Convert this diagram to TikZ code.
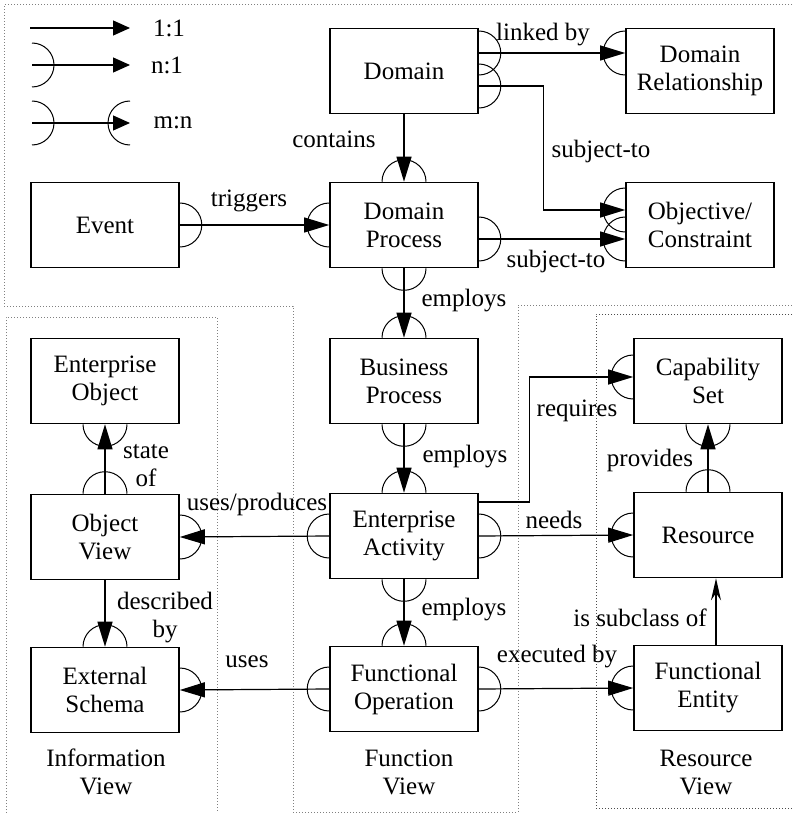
\documentclass[tikz,border=0pt]{standalone}
\usepackage{fontspec}
\setmainfont{Liberation Serif}
\usetikzlibrary{arrows.meta}

% half circle on a box side, #2 = direction pointing away from the box
\newcommand{\cardarc}[2]{\draw[line width=0.5pt] (#1) ++(#2+90:11pt) arc[start angle=#2+90,end angle=#2-90,radius=11pt];}

\begin{document}
\begin{tikzpicture}[x=0.5pt,y=-0.5pt,>={Triangle[length=12.5pt,width=7.5pt]},
	box/.style={draw,line width=0.8pt,minimum width=74pt,minimum height=42.5pt,inner sep=0pt,align=center},
	lbl/.style={inner sep=0pt,align=center},
	conn/.style={line width=0.6pt},
	view/.style={densely dotted,gray,line width=0.5pt},
	font=\fontsize{12.5}{14}\selectfont]
	\useasboundingbox (0,0) rectangle (792,813);
	% view borders
	\draw[view] (792,5)--(4,5)--(4,306)--(293,306)--(293,812)--(518,812)--(518,305)--(792,305);
	\draw[view] (6,813)--(6,317)--(217,317)--(217,813);
	\draw[view,black!70] (792,314)--(596,314)--(596,808)--(792,808);
	% legend
	\coordinate (k1a) at (30,28); \coordinate (k1b) at (130,28);
	\coordinate (k2a) at (32,65); \coordinate (k2b) at (130,65);
	\coordinate (k3a) at (32,123); \coordinate (k3b) at (130,123);
	\draw[conn,-{Triangle[length=8.5pt,width=7.5pt]}] (k1a)--(k1b);
	\draw[conn,-{Triangle[length=8.5pt,width=7.5pt]}] (k2a)--(k2b);
	\draw[conn,-{Triangle[length=8.5pt,width=7.5pt]}] (k3a)--(k3b);
	\cardarc{k2a}{0} \cardarc{k3a}{0} \cardarc{k3b}{180}
	\node[lbl] (k1) at (169,28) {1:1};
	\node[lbl] (k2) at (167,65) {n:1};
	\node[lbl] (k3) at (173,123) {m:n};
	% boxes
	\node[box] (dom) at (404,71) {Domain};
	\node[box] (rel) at (700,71) {Domain\\Relationship};
	\node[box] (evt) at (105,225) {Event};
	\node[box] (dp) at (404,225) {Domain\\Process};
	\node[box] (obj) at (700,225) {Objective/\\Constraint};
	\node[box] (eo) at (105,381) {Enterprise\\Object};
	\node[box] (bp) at (404,381) {Business\\Process};
	\node[box] (cap) at (708,381) {Capability\\Set};
	\node[box] (ov) at (105,537) {Object\\View};
	\node[box] (ea) at (404,536) {Enterprise\\Activity};
	\node[box] (res) at (708,535) {Resource};
	\node[box] (es) at (105,690) {External\\Schema};
	\node[box] (fo) at (404,689) {Functional\\Operation};
	\node[box] (fe) at (708,688) {Functional\\Entity};
	% domain view
	\draw[conn,->] ([yshift=9pt]dom.east)--([yshift=9pt]rel.west);
	\cardarc{[yshift=9pt]dom.east}{0} \cardarc{[yshift=9pt]rel.west}{180}
	\draw[conn,->] ([yshift=-7.5pt]dom.east)--++(32.5pt,0)|-([yshift=7.5pt]obj.west);
	\cardarc{[yshift=-7.5pt]dom.east}{0} \cardarc{[yshift=7.5pt]obj.west}{180}
	\draw[conn,->] ([yshift=-7pt]dp.east)--([yshift=-7pt]obj.west);
	\cardarc{[yshift=-7pt]dp.east}{0} \cardarc{[yshift=-7pt]obj.west}{180}
	\draw[conn,->] (dom.south)--(dp.north);
	\cardarc{dp.north}{90}
	\draw[conn,->] (evt.east)--(dp.west);
	\cardarc{evt.east}{0} \cardarc{dp.west}{180}
	\draw[conn,->] (dp.south)--(bp.north);
	\cardarc{dp.south}{-90} \cardarc{bp.north}{90}
	% function view
	\draw[conn,->] (bp.south)--(ea.north);
	\cardarc{bp.south}{-90} \cardarc{ea.north}{90}
	\draw[conn,->] (ea.south)--(fo.north);
	\cardarc{ea.south}{-90} \cardarc{fo.north}{90}
	% information view
	\draw[conn,->] (ov.north)--(eo.south);
	\cardarc{ov.north}{90} \cardarc{eo.south}{-90}
	\draw[conn,->] (ea.west)--(ov.east);
	\cardarc{ea.west}{180} \cardarc{ov.east}{0}
	\draw[conn,->] (ov.south)--(es.north);
	\cardarc{es.north}{90}
	\draw[conn,->] (fo.west)--(es.east);
	\cardarc{fo.west}{180} \cardarc{es.east}{0}
	% resource view
	\draw[conn,->] ([yshift=17pt]ea.east)--++(25.5pt,0)|-([yshift=2pt]cap.west);
	\cardarc{[yshift=2pt]cap.west}{180}
	\draw[conn,->] (ea.east)--(res.west);
	\cardarc{ea.east}{0} \cardarc{res.west}{180}
	\draw[conn,->] (res.north)--(cap.south);
	\cardarc{res.north}{90} \cardarc{cap.south}{-90}
	\draw[conn,->] (fo.east)--(fe.west);
	\cardarc{fo.east}{0} \cardarc{fe.west}{180}
	\draw[conn,-{Stealth[length=11pt,width=5pt]}] ([xshift=4pt]fe.north)--([xshift=4pt]res.south);
	% connector labels
	\node[lbl] (t1) at (543,35) {linked by};
	\node[lbl] (t2) at (601,151) {subject-to};
	\node[lbl] (t3) at (334,139) {contains};
	\node[lbl] (t4) at (249,201) {triggers};
	\node[lbl] (t5) at (556,261) {subject-to};
	\node[lbl] (t6) at (464,301) {employs};
	\node[lbl] (t7) at (465,457) {employs};
	\node[lbl] (t8) at (146,466) {state\\of};
	\node[lbl] (t9) at (257,504) {uses/produces};
	\node[lbl] (t10) at (577,411) {requires};
	\node[lbl] (t11) at (650,460) {provides};
	\node[lbl] (t12) at (554,520) {needs};
	\node[lbl] (t13) at (165,618) {described\\by};
	\node[lbl] (t14) at (464,610) {employs};
	\node[lbl] (t15) at (247,662) {uses};
	\node[lbl] (t16) at (557,657) {executed by};
	\node[lbl] (t17) at (640,618) {is subclass of};
	% view names
	\node[lbl] (iv) at (106,772) {Information\\View};
	\node[lbl] (fv) at (409,772) {Function\\View};
	\node[lbl] (rv) at (706,772) {Resource\\View};
\end{tikzpicture}
\end{document}
